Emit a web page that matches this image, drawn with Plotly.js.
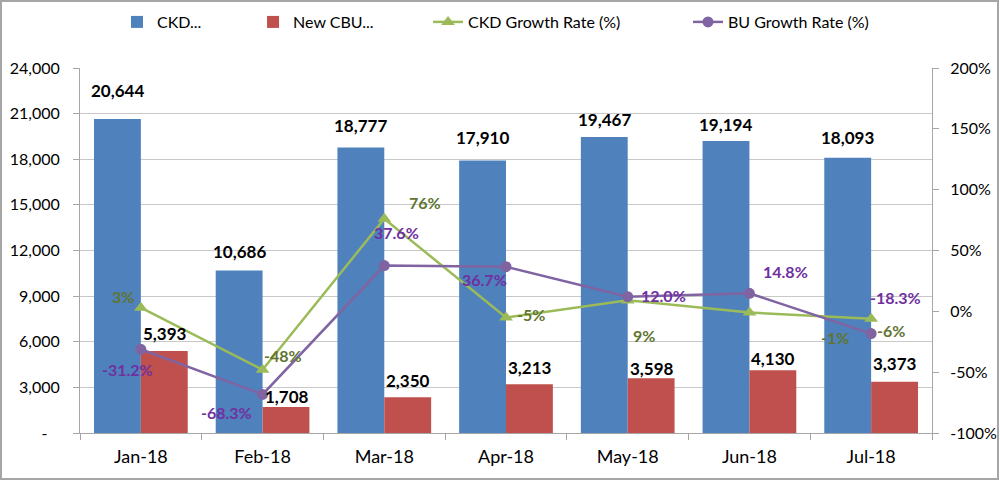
<!DOCTYPE html>
<html>
<head>
<meta charset="utf-8">
<script src="https://cdn.plot.ly/plotly-3.0.1.min.js"></script>
<style>
  html, body { margin: 0; padding: 0; background: #fff; }
  #wrap { position: relative; width: 1000px; height: 482px; }
  #chart { width: 1000px; height: 482px; }
  #frame { position: absolute; left: 0; top: 0; width: 999px; height: 480px; box-sizing: border-box;
           border: 2px solid #a6a6a6; pointer-events: none; }
</style>
</head>
<body>
<div id="wrap"><div id="chart"></div><div id="frame"></div></div>
<script>
// ---- data ----
const months = ["Jan-18", "Feb-18", "Mar-18", "Apr-18", "May-18", "Jun-18", "Jul-18"];
const ckdUnits = [20644, 10686, 18777, 17910, 19467, 19194, 18093];
const cbuUnits = [5393, 1708, 2350, 3213, 3598, 4130, 3373];
const ckdGrowth = [3, -48, 76, -5, 9, -1, -6];            // percent
const buGrowth = [-31.2, -68.3, 37.6, 36.7, 12.0, 14.8, -18.3]; // percent
const leftTickVals = [0, 3000, 6000, 9000, 12000, 15000, 18000, 21000, 24000];
const leftTickText = ["-\u00a0\u00a0\u00a0", "3,000", "6,000", "9,000", "12,000", "15,000", "18,000", "21,000", "24,000"];
const rightTickVals = [-100, -50, 0, 50, 100, 150, 200];
const rightTickText = ["-100%", "-50%", "0%", "50%", "100%", "150%", "200%"];
const seriesNames = ["CKD...", "New CBU...", "CKD Growth Rate (%)", "BU Growth Rate (%)"];

// ---- label placement (pixel offsets, style only) ----
const ckdLabelShift = [29, 19, 22, 23, 17, 17, 20];
const cbuLabelShift = [17, 11, 17, 17, 10, 12, 18];
const ckdGrowthDx = [-18, 20, 41, 25, 16, 86, 20];
const ckdGrowthDy = [11, 14, 16, 3, -35, -25, -12];
const buGrowthDx = [-13, -36, 12, -22, 36, 36, 24];
const buGrowthDy = [-20, -18, 33, -13, 1, 22, 36];
const legendX = [0.0434, 0.2031, 0.4085, 0.7136];

const FONT = "Lato, 'Open Sans', sans-serif";
const BLUE = "#4F81BD", RED = "#C0504D", GREEN = "#9BBB59", PURPLE = "#8064A2";

const traces = [
  { type: "bar", name: seriesNames[0], x: months, y: ckdUnits, marker: { color: BLUE },
    offsetgroup: "a", legend: "legend" },
  { type: "bar", name: seriesNames[1], x: months, y: cbuUnits, marker: { color: RED },
    offsetgroup: "b", legend: "legend2" },
  { type: "scatter", mode: "lines+markers", name: seriesNames[2], x: months, y: ckdGrowth, yaxis: "y2",
    line: { color: GREEN, width: 2.5 }, marker: { symbol: "triangle-up", size: 12, color: GREEN }, legend: "legend3" },
  { type: "scatter", mode: "lines+markers", name: seriesNames[3], x: months, y: buGrowth, yaxis: "y2",
    line: { color: PURPLE, width: 2.5 }, marker: { symbol: "circle", size: 11, color: PURPLE }, legend: "legend4" }
];

const fmt = v => v.toLocaleString("en-US");
const annotations = [];
months.forEach((m, i) => {
  annotations.push({ x: m, y: ckdUnits[i], xref: "x", yref: "y", text: "<b>" + fmt(ckdUnits[i]) + "</b>",
    showarrow: false, xshift: -23.5, yshift: ckdLabelShift[i], yanchor: "middle",
    font: { family: FONT, size: 17, color: "#000" } });
  annotations.push({ x: m, y: cbuUnits[i], xref: "x", yref: "y", text: "<b>" + fmt(cbuUnits[i]) + "</b>",
    showarrow: false, xshift: 24, yshift: cbuLabelShift[i], yanchor: "middle",
    font: { family: FONT, size: 17, color: "#000" } });
  annotations.push({ x: m, y: ckdGrowth[i], xref: "x", yref: "y2", text: "<b>" + ckdGrowth[i] + "%</b>",
    showarrow: false, xshift: ckdGrowthDx[i], yshift: ckdGrowthDy[i], yanchor: "middle",
    font: { family: FONT, size: 16, color: "#5F7530" } });
  annotations.push({ x: m, y: buGrowth[i], xref: "x", yref: "y2", text: "<b>" + buGrowth[i].toFixed(1) + "%</b>",
    showarrow: false, xshift: buGrowthDx[i], yshift: buGrowthDy[i], yanchor: "middle",
    font: { family: FONT, size: 16, color: "#7030A0" } });
});

const legendBase = i => ({ orientation: "h", x: legendX[i], xanchor: "left", y: 1.126, yanchor: "middle",
  font: { family: FONT, size: 16, color: "#000" }, bgcolor: "rgba(0,0,0,0)", borderwidth: 0 });

const layout = {
  width: 1000, height: 482,
  margin: { l: 80, r: 68, t: 68, b: 49, pad: 0, autoexpand: false },
  paper_bgcolor: "#fff", plot_bgcolor: "#fff",
  font: { family: FONT, size: 16, color: "#000" },
  barmode: "group", bargap: 0.23, bargroupgap: 0,
  showlegend: true,
  legend: legendBase(0), legend2: legendBase(1), legend3: legendBase(2), legend4: legendBase(3),
  xaxis: { type: "category", showline: true, linecolor: "#a6a6a6", linewidth: 1,
    ticks: "outside", tickson: "boundaries", ticklen: 6, tickcolor: "#a6a6a6",
    tickfont: { family: FONT, size: 18, color: "#000" }, ticklabelstandoff: 7,
    showgrid: false, fixedrange: true },
  yaxis: { range: [0, 24000], tickvals: leftTickVals, ticktext: leftTickText,
    showline: true, linecolor: "#a6a6a6", linewidth: 1, ticks: "outside", ticklen: 6, tickcolor: "#a6a6a6",
    showgrid: true, gridcolor: "#c8c8c8", gridwidth: 1, zeroline: false,
    tickfont: { family: FONT, size: 16, color: "#000" }, ticklabelstandoff: 10, fixedrange: true },
  yaxis2: { overlaying: "y", side: "right", range: [-100, 200], tickvals: rightTickVals, ticktext: rightTickText,
    showline: true, linecolor: "#a6a6a6", linewidth: 1, ticks: "outside", ticklen: 6, tickcolor: "#a6a6a6",
    showgrid: false, zeroline: false,
    tickfont: { family: FONT, size: 16, color: "#000" }, ticklabelstandoff: 8, fixedrange: true },
  annotations: annotations
};

Plotly.newPlot("chart", traces, layout, { displayModeBar: false, staticPlot: true });
</script>
</body>
</html>
